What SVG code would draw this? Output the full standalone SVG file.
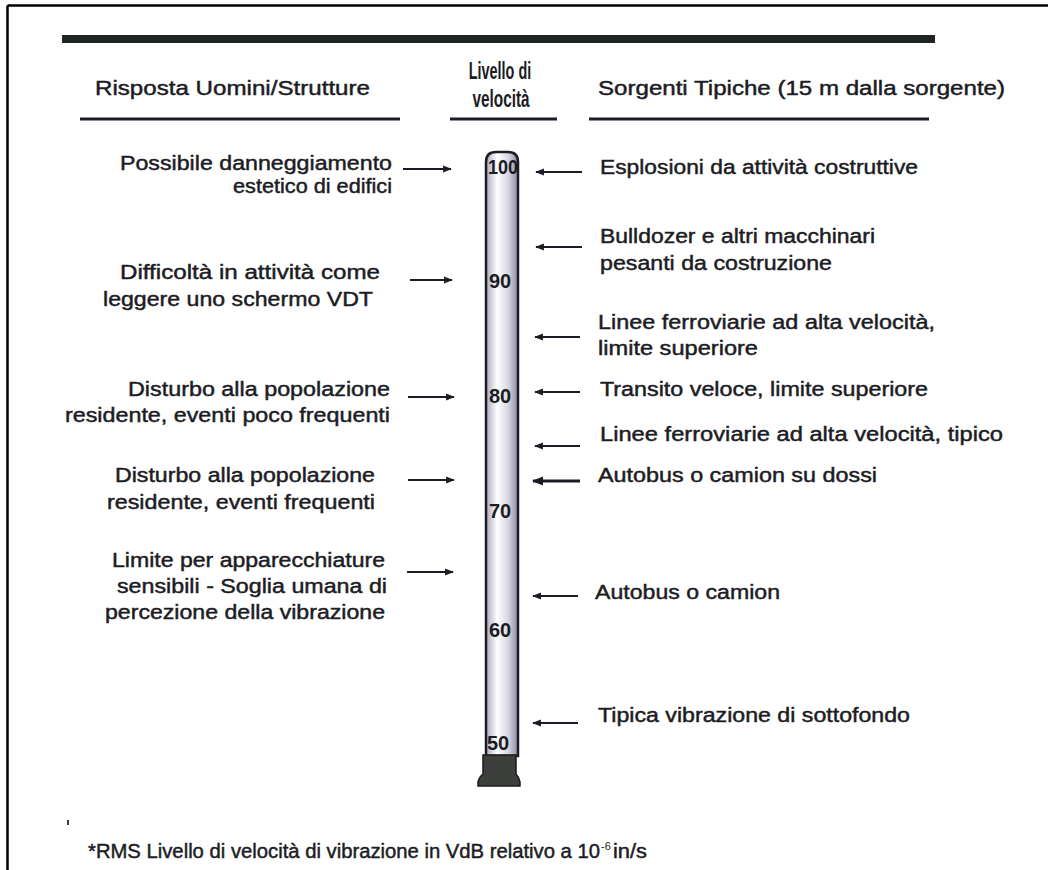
<svg xmlns="http://www.w3.org/2000/svg" width="1048" height="870" viewBox="0 0 1048 870">
<defs>
<style>
text{font-family:"Liberation Sans",Arial,sans-serif;fill:#1c1c24}
.t{font-size:20px;stroke:#1c1c24;stroke-width:0.45px}
.h{font-size:20px;stroke:#1c1c24;stroke-width:0.45px}
.hb{font-size:24px;font-weight:bold;text-anchor:middle}
.n{font-size:20px;font-weight:bold}
.ln{stroke:#1c1c24;stroke-width:2.2;fill:none}
.rule{stroke:#1c1c24;stroke-width:3}
</style>
<marker id="ah" viewBox="0 0 10 10" refX="9" refY="5" markerWidth="4" markerHeight="4" orient="auto" markerUnits="strokeWidth">
<path d="M0,1 L10,5 L0,9 Z" fill="#1c1c24"/>
</marker>
<linearGradient id="tube" x1="0" y1="0" x2="1" y2="0">
<stop offset="0" stop-color="#a9a9bb"/>
<stop offset="0.35" stop-color="#ffffff"/>
<stop offset="0.7" stop-color="#d6d6e2"/>
<stop offset="1" stop-color="#8a8a9c"/>
</linearGradient>
</defs>
<rect x="0" y="0" width="1048" height="870" fill="#ffffff"/>
<g id="frame">
<line x1="7.5" y1="5.5" x2="1048" y2="5.5" stroke="#000" stroke-width="2.5"/>
<line x1="7.5" y1="5.5" x2="7.5" y2="870" stroke="#000" stroke-width="2.5"/>
</g>
<g id="header">
<rect x="62" y="35" width="873" height="8" fill="#1f2622"/>
<text class="h" x="95" y="95" textLength="275" lengthAdjust="spacingAndGlyphs">Risposta Uomini/Strutture</text>
<text class="hb" transform="translate(500,79) scale(0.6,1)" x="0" y="0">Livello di</text>
<text class="hb" transform="translate(501,107) scale(0.64,1)" x="0" y="0">velocità</text>
<text class="h" x="598" y="95" textLength="407" lengthAdjust="spacingAndGlyphs">Sorgenti Tipiche (15 m dalla sorgente)</text>
<line class="rule" x1="80" y1="119" x2="400" y2="119"/>
<line class="rule" x1="450" y1="119" x2="557" y2="119"/>
<line class="rule" x1="589" y1="119" x2="929" y2="119"/>
</g>
<g id="scale">
<path d="M486,756 L486,162 Q486,152 496,152 L508,152 Q518,152 518,162 L518,756 Z" fill="url(#tube)" stroke="#1c1c24" stroke-width="2.5"/>
<path d="M483,755 L516,755 L516,774 Q519,777 520,782 L520,786 L478,786 L478,782 Q479,777 483,774 Z" fill="#3c3f3c" stroke="#1a1a1a" stroke-width="1.5"/>
<text class="n" x="488" y="174" textLength="30" lengthAdjust="spacingAndGlyphs">100</text>
<text class="n" x="489" y="288">90</text>
<text class="n" x="489" y="403">80</text>
<text class="n" x="489" y="518">70</text>
<text class="n" x="489" y="637">60</text>
<text class="n" x="487" y="750">50</text>
</g>
<g id="left-1"><text class="t" x="120" y="170" textLength="272" lengthAdjust="spacingAndGlyphs">Possibile danneggiamento</text><text class="t" x="233" y="193" textLength="159" lengthAdjust="spacingAndGlyphs">estetico di edifici</text></g>
<g id="left-2"><text class="t" x="120" y="279" textLength="260" lengthAdjust="spacingAndGlyphs">Difficoltà in attività come</text><text class="t" x="103" y="306" textLength="270" lengthAdjust="spacingAndGlyphs">leggere uno schermo VDT</text></g>
<g id="left-3"><text class="t" x="128" y="396" textLength="262" lengthAdjust="spacingAndGlyphs">Disturbo alla popolazione</text><text class="t" x="65" y="422" textLength="325" lengthAdjust="spacingAndGlyphs">residente, eventi poco frequenti</text></g>
<g id="left-4"><text class="t" x="115" y="482" textLength="260" lengthAdjust="spacingAndGlyphs">Disturbo alla popolazione</text><text class="t" x="107" y="509" textLength="268" lengthAdjust="spacingAndGlyphs">residente, eventi frequenti</text></g>
<g id="left-5"><text class="t" x="112" y="567" textLength="273" lengthAdjust="spacingAndGlyphs">Limite per apparecchiature</text><text class="t" x="117" y="593" textLength="270" lengthAdjust="spacingAndGlyphs">sensibili - Soglia umana di</text><text class="t" x="105" y="619" textLength="280" lengthAdjust="spacingAndGlyphs">percezione della vibrazione</text></g>
<g id="right-1"><text class="t" x="600" y="174" textLength="318" lengthAdjust="spacingAndGlyphs">Esplosioni da attività costruttive</text></g>
<g id="right-2"><text class="t" x="600" y="243" textLength="275" lengthAdjust="spacingAndGlyphs">Bulldozer e altri macchinari</text><text class="t" x="600" y="270" textLength="232" lengthAdjust="spacingAndGlyphs">pesanti da costruzione</text></g>
<g id="right-3"><text class="t" x="598" y="329" textLength="337" lengthAdjust="spacingAndGlyphs">Linee ferroviarie ad alta velocità,</text><text class="t" x="598" y="355" textLength="160" lengthAdjust="spacingAndGlyphs">limite superiore</text></g>
<g id="right-4"><text class="t" x="600" y="396" textLength="328" lengthAdjust="spacingAndGlyphs">Transito veloce, limite superiore</text></g>
<g id="right-5"><text class="t" x="600" y="441" textLength="403" lengthAdjust="spacingAndGlyphs">Linee ferroviarie ad alta velocità, tipico</text></g>
<g id="right-6"><text class="t" x="598" y="482" textLength="279" lengthAdjust="spacingAndGlyphs">Autobus o camion su dossi</text></g>
<g id="right-7"><text class="t" x="595" y="599" textLength="185" lengthAdjust="spacingAndGlyphs">Autobus o camion</text></g>
<g id="right-8"><text class="t" x="598" y="722" textLength="312" lengthAdjust="spacingAndGlyphs">Tipica vibrazione di sottofondo</text></g>
<g id="connectors">
<line class="ln" x1="403" y1="169" x2="451" y2="169" marker-end="url(#ah)"/>
<line class="ln" x1="410" y1="280" x2="452" y2="280" marker-end="url(#ah)"/>
<line class="ln" x1="408" y1="397" x2="454" y2="397" marker-end="url(#ah)"/>
<line class="ln" x1="408" y1="480" x2="454" y2="480" marker-end="url(#ah)"/>
<line class="ln" x1="407" y1="572" x2="453" y2="572" marker-end="url(#ah)"/>
<line class="ln" x1="582" y1="172" x2="536" y2="172" marker-end="url(#ah)"/>
<line class="ln" x1="582" y1="247" x2="536" y2="247" marker-end="url(#ah)"/>
<line class="ln" x1="580" y1="337" x2="535" y2="337" marker-end="url(#ah)"/>
<line class="ln" x1="580" y1="392" x2="535" y2="392" marker-end="url(#ah)"/>
<line class="ln" x1="580" y1="446" x2="535" y2="446" marker-end="url(#ah)"/>
<line class="ln" x1="580" y1="481" x2="533" y2="481" marker-end="url(#ah)" style="stroke-width:2.8"/>
<line class="ln" x1="578" y1="596" x2="533" y2="596" marker-end="url(#ah)"/>
<line class="ln" x1="578" y1="723" x2="533" y2="723" marker-end="url(#ah)"/>
</g>
<g id="footnote">
<rect x="67" y="820" width="2" height="5" fill="#3a3a44"/>
<text class="t" x="88" y="858" textLength="512" lengthAdjust="spacingAndGlyphs">*RMS Livello di velocità di vibrazione in VdB relativo a 10</text>
<text x="601" y="850" style="font-size:11px">-6</text>
<text class="t" x="613" y="858" textLength="34" lengthAdjust="spacingAndGlyphs"> in/s</text>
</g>
</svg>
